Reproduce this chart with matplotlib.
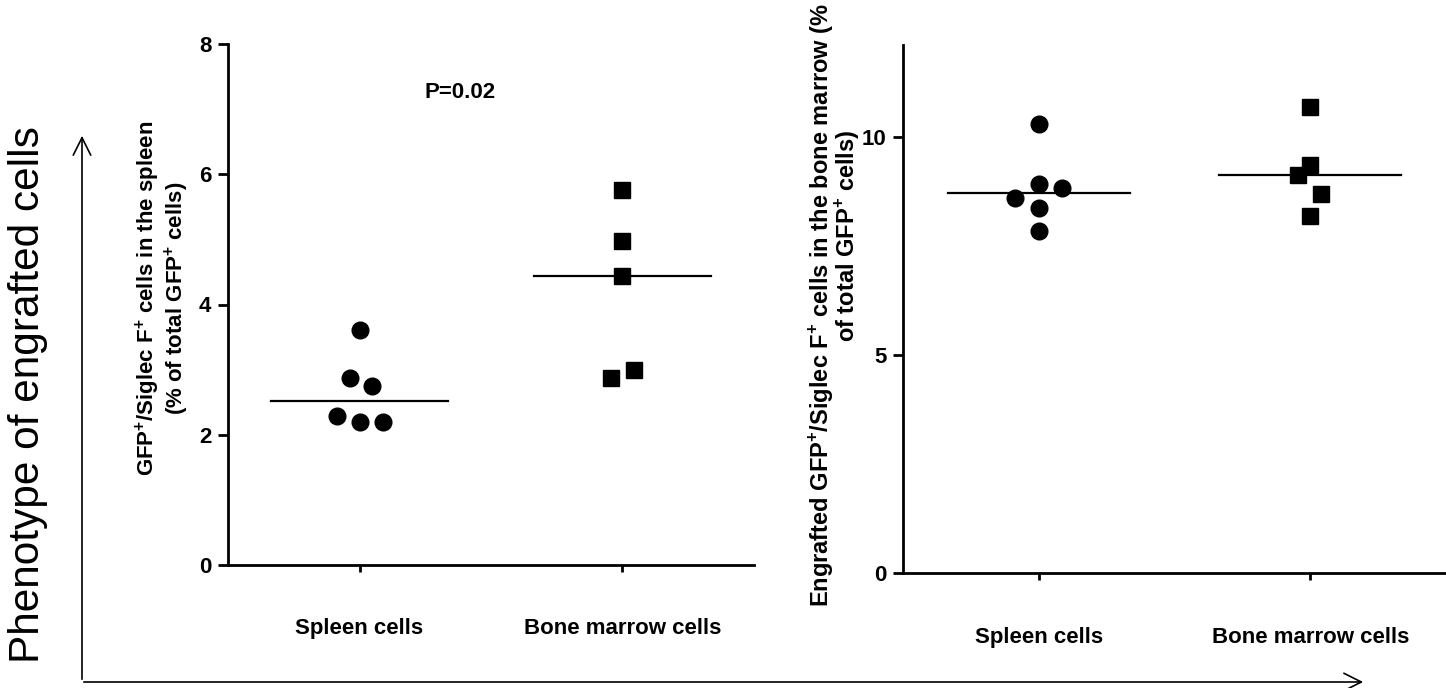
import numpy as np
import matplotlib
matplotlib.use("Agg")
import matplotlib.pyplot as plt
from matplotlib.patches import FancyArrowPatch

plt.rcParams["font.family"] = ["Liberation Sans", "DejaVu Sans"]
plt.rcParams["mathtext.fontset"] = "custom"
plt.rcParams["mathtext.rm"] = "Liberation Sans:bold"
plt.rcParams["mathtext.bf"] = "Liberation Sans:bold"

# Categories
groups = ["Spleen cells", "Bone marrow cells"]

# Left panel: % GFP+/Siglec F+ in the spleen
spleen_in_spleen = [3.61, 2.87, 2.75, 2.29, 2.19, 2.20]
marrow_in_spleen = [5.76, 4.98, 4.44, 2.87, 3.00]

# Right panel: % GFP+/Siglec F+ in the bone marrow
spleen_in_marrow = [10.30, 8.92, 8.82, 8.60, 8.37, 7.84]
marrow_in_marrow = [10.69, 9.34, 9.12, 8.69, 8.17]

p_text = "P=0.02"

# horizontal scatter offsets so the points don't overlap (layout only)
jit_left_sp = [0, -0.038, 0.046, -0.084, 0, 0.091]
jit_left_bm = [0, 0, 0, -0.042, 0.042]
jit_right_sp = [0, 0, 0.086, -0.086, 0, 0]
jit_right_bm = [0, 0, -0.045, 0.041, 0]

W, H = 1446, 688
fig = plt.figure(figsize=(W / 100, H / 100), dpi=100)


def px(x0, y0, x1, y1):
    # pixel box (top-left origin) -> figure fraction rect
    return [x0 / W, 1 - y1 / H, (x1 - x0) / W, (y1 - y0) / H]


def style_axis(ax, ymax, yticks, xpad):
    for s in ["top", "right"]:
        ax.spines[s].set_visible(False)
    for s in ["left", "bottom"]:
        ax.spines[s].set_linewidth(2.0)
    ax.set_xlim(0.5, 2.5)
    ax.set_ylim(0, ymax)
    ax.set_yticks(yticks)
    ax.set_yticklabels([str(t) for t in yticks], fontsize=16, fontweight="bold")
    ax.set_xticks([1, 2])
    ax.set_xticklabels(groups, fontsize=16, fontweight="bold")
    ax.tick_params(axis="y", direction="out", length=7, width=2.0, pad=5)
    ax.tick_params(axis="x", direction="out", length=5, width=2.0, pad=xpad)


def draw_group(ax, xc, vals, jit, marker):
    xs = [xc + j for j in jit]
    ax.plot(xs, vals, linestyle="none", marker=marker, markersize=12,
            color="black", clip_on=False)
    med = np.median(vals)
    ax.plot([xc - 0.335, xc + 0.335], [med, med], color="black", lw=1.6)


# left panel
ax1 = fig.add_axes(px(228, 44, 754, 565))
style_axis(ax1, 8, [0, 2, 4, 6, 8], 33)
draw_group(ax1, 1, spleen_in_spleen, jit_left_sp, "o")
draw_group(ax1, 2, marrow_in_spleen, jit_left_bm, "s")
fig.text(460 / W, 1 - 92 / H, p_text, fontsize=16, fontweight="bold",
         ha="center", va="center")
fig.text(148 / W, 1 - 298 / H, r"GFP$^{+}$/Siglec F$^{+}$ cells in the spleen",
         rotation=90, fontsize=16, fontweight="bold", ha="center", va="center")
fig.text(177 / W, 1 - 298 / H, r"(% of total GFP$^{+}$ cells)",
         rotation=90, fontsize=16, fontweight="bold", ha="center", va="center")

# right panel
ax2 = fig.add_axes(px(903, 45, 1446, 573))
style_axis(ax2, 12.1, [0, 5, 10], 34)
draw_group(ax2, 1, spleen_in_marrow, jit_right_sp, "o")
draw_group(ax2, 2, marrow_in_marrow, jit_right_bm, "s")
fig.text(821 / W, 1 - 607 / H,
         r"Engrafted GFP$^{+}$/Siglec F$^{+}$ cells in the bone marrow (%",
         rotation=90, fontsize=17, fontweight="bold", ha="center", va="bottom")
fig.text(848 / W, 1 - 236 / H, r"of total GFP$^{+}$ cells)",
         rotation=90, fontsize=17, fontweight="bold", ha="center", va="center")

# outer arrows and big label
arrow_kw = dict(arrowstyle="->,head_length=0.9,head_width=0.45", color="black",
                lw=1.2, transform=fig.transFigure, mutation_scale=14)
fig.add_artist(FancyArrowPatch((82 / W, 1 - 682 / H), (82 / W, 1 - 133 / H), **arrow_kw))
fig.add_artist(FancyArrowPatch((81 / W, 1 - 682 / H), (1366 / W, 1 - 682 / H), **arrow_kw))
fig.text(28 / W, 1 - 395 / H, "Phenotype of engrafted cells", rotation=90,
         fontsize=30.5, ha="center", va="center")

fig.savefig("out.png", dpi=100)
